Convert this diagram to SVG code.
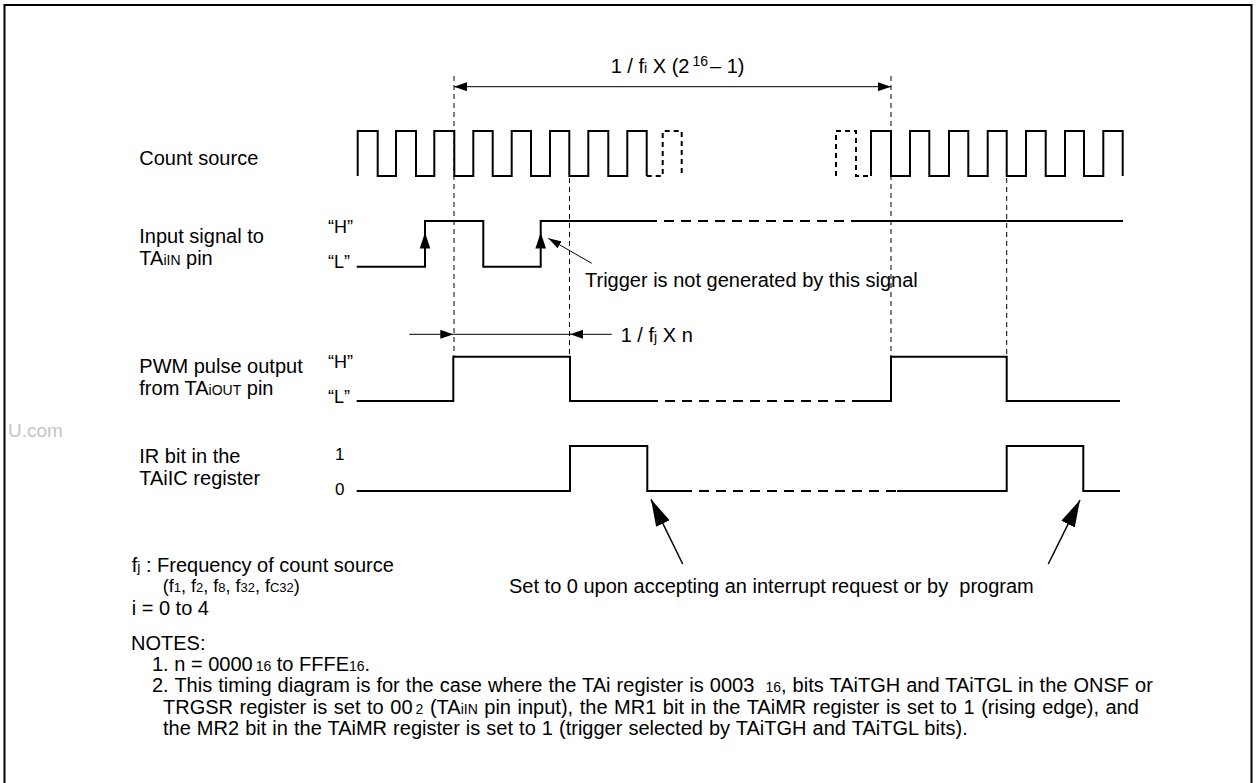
<svg xmlns="http://www.w3.org/2000/svg" width="1257" height="783" viewBox="0 0 1257 783">
<defs>
<style>
text{font-family:"Liberation Sans",Arial,sans-serif;fill:#000;font-size:20px}
.lv{font-size:18px}
.dg{font-size:17px}
.sub{font-size:14px}
.wave{fill:none;stroke:#000;stroke-width:2;stroke-linejoin:miter}
.wd{fill:none;stroke:#000;stroke-width:2;stroke-dasharray:10,7}
.wdc{fill:none;stroke:#000;stroke-width:2;stroke-dasharray:5,4}
.guide{fill:none;stroke:#000;stroke-width:1;stroke-dasharray:5,4}
.dim{fill:none;stroke:#000;stroke-width:1}
.ptr{fill:none;stroke:#000;stroke-width:1.5}
</style>
<marker id="arr" viewBox="0 0 13 9" refX="13" refY="4.5" markerWidth="13" markerHeight="9" orient="auto-start-reverse" markerUnits="userSpaceOnUse"><path d="M0,0 L13,4.5 L0,9 Z" fill="#000"/></marker>
<marker id="arrS" viewBox="0 0 13 8" refX="13" refY="4" markerWidth="13" markerHeight="8" orient="auto" markerUnits="userSpaceOnUse"><path d="M0,0 L13,4 L0,8 Z" fill="#000"/></marker>
<marker id="arrL" viewBox="0 0 27 15" refX="27" refY="7.5" markerWidth="27" markerHeight="15" orient="auto" markerUnits="userSpaceOnUse"><path d="M0,0 L27,7.5 L0,15 Z" fill="#000"/></marker>
</defs>
<rect x="4.5" y="5" width="1247" height="820" fill="#fff" stroke="#000" stroke-width="2"/>
<text x="8" y="437" style="font-size:19px;fill:#c4c4c4">U.com</text>

<g id="count-source">
<text x="139.3" y="165">Count source</text>
<path class="wave" d="M357.7,176 V131 H377.7 V176 H396 V131 H416 V176 H434.3 V131 H454.3 V176 H473.3 V131 H492.7 V176 H511.7 V131 H531 V176 H550 V131 H569.3 V176 H588.3 V131 H608.3 V176 H627.3 V131 H646.7 V176"/>
<path class="wdc" d="M646.7,176 H662.7 V131 H681.7 V176"/>
<path class="wdc" d="M836,176 V131 H856 V176 H871"/>
<path class="wave" d="M871,176 V131 H891 V176 H910 V131 H929.3 V176 H949 V131 H968.3 V176 H987.7 V131 H1006.7 V176 H1026 V131 H1045.7 V176 H1065 V131 H1084 V176 H1103.3 V131 H1122.7 V176"/>
</g>

<g id="input-signal">
<text x="139.3" y="243.3">Input signal to</text>
<text x="139.3" y="265">TA<tspan class="sub">iIN</tspan> pin</text>
<text class="lv" x="328" y="233">“H”</text>
<text class="lv" x="328" y="268">“L”</text>
<path class="wave" d="M356.7,266.7 H425 V221 H483.3 V266.7 H540.7 V221 H647"/>
<path class="wd" d="M647,221 H860"/>
<path class="wave" d="M860,221 H1123"/>
<polygon points="425,232.5 419.7,248.5 430.3,248.5" fill="#000"/>
<polygon points="540.7,232.5 535.4,248.5 546,248.5" fill="#000"/>
<text x="585" y="287.3">Trigger is not generated by this signal</text>
</g>

<g id="pwm-output">
<text x="139.3" y="373.3">PWM pulse output</text>
<text x="139.3" y="395">from TA<tspan class="sub">iOUT</tspan> pin</text>
<text class="lv" x="328" y="368">“H”</text>
<text class="lv" x="328" y="403">“L”</text>
<path class="wave" d="M356.7,401 H453.3 V356.7 H570 V401 H648"/>
<path class="wd" d="M648,401 H862"/>
<path class="wave" d="M862,401 H891 V356.7 H1006.7 V401 H1120"/>
<text x="620.7" y="341.7">1 / f<tspan class="sub">j</tspan> X  n</text>
</g>

<g id="ir-bit">
<text x="139.3" y="462.7">IR bit in the</text>
<text x="139.3" y="485">TAiIC register</text>
<text class="dg" x="335" y="460">1</text>
<text class="dg" x="335" y="495">0</text>
<path class="wave" d="M356.7,491 H570 V446 H647.3 V491 H682"/>
<path class="wd" d="M682,491 H897"/>
<path class="wave" d="M897,491 H1006.7 V446 H1083.3 V491 H1120"/>
<text x="509" y="593.3" style="white-space:pre">Set to 0 upon accepting an interrupt request or by  program</text>
</g>

<g id="legend">
<text x="131.7" y="572">f<tspan class="sub">j</tspan> : Frequency of count source</text>
<text x="162.7" y="592" style="font-size:18px">(f<tspan style="font-size:13px">1</tspan>, f<tspan style="font-size:13px">2</tspan>, f<tspan style="font-size:13px">8</tspan>, f<tspan style="font-size:13px">32</tspan>, f<tspan style="font-size:13px">C32</tspan>)</text>
<text x="131.7" y="615">i = 0 to 4</text>
</g>

<g id="notes">
<text x="131" y="650">NOTES:</text>
<text x="152" y="671">1. n = 0000<tspan class="sub" dx="3">16</tspan> to FFFE<tspan class="sub">16</tspan>.</text>
<text x="152" y="692" style="word-spacing:0.5px">2. This timing diagram is for the case where the TAi register is 0003 <tspan class="sub" dx="5">16</tspan>, bits TAiTGH and TAiTGL in the ONSF or</text>
<text x="163" y="713.5" style="word-spacing:1px">TRGSR register is set to 00<tspan class="sub" dx="3">2</tspan> (TA<tspan class="sub">iIN</tspan> pin input), the MR1 bit in the TAiMR register is set to 1 (rising edge), and</text>
<text x="163" y="735" style="word-spacing:0.5px">the MR2 bit in the TAiMR register is set to 1 (trigger selected by TAiTGH and TAiTGL bits).</text>
</g>

<g id="connectors">
<line class="guide" x1="454" y1="76" x2="454" y2="356"/>
<line class="guide" x1="569.5" y1="178" x2="569.5" y2="356"/>
<line class="guide" x1="891" y1="76" x2="891" y2="356"/>
<line class="guide" x1="1006.7" y1="178" x2="1006.7" y2="356"/>
<line class="dim" x1="454" y1="86.7" x2="891" y2="86.7" marker-start="url(#arr)" marker-end="url(#arr)"/>
<text x="610.7" y="72.7">1 / f<tspan class="sub">i</tspan> X (2<tspan class="sub" dx="3" dy="-7">16</tspan><tspan dx="2" dy="7">– 1)</tspan></text>
<line class="dim" x1="409.3" y1="334.3" x2="453.3" y2="334.3" marker-end="url(#arr)"/>
<line class="dim" x1="453.3" y1="334.3" x2="570" y2="334.3"/>
<line class="dim" x1="611.7" y1="334.3" x2="570" y2="334.3" marker-end="url(#arr)"/>
<line class="dim" x1="591.7" y1="263.3" x2="548.3" y2="238.3" marker-end="url(#arrS)"/>
<line class="ptr" x1="682.7" y1="564" x2="651" y2="499.3" marker-end="url(#arrL)"/>
<line class="ptr" x1="1048.3" y1="564" x2="1080" y2="500" marker-end="url(#arrL)"/>
</g>
</svg>
